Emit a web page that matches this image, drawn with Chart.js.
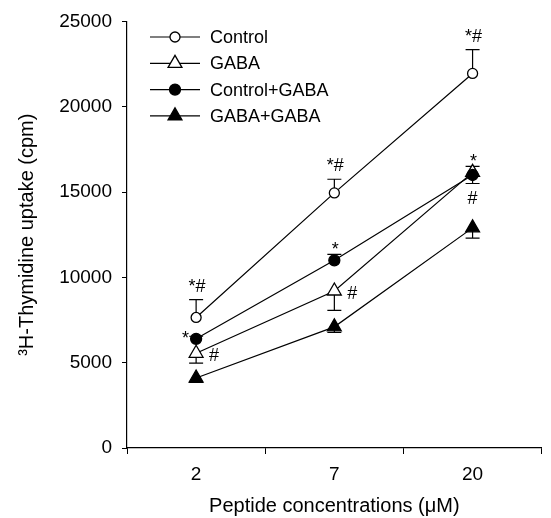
<!DOCTYPE html>
<html>
<head>
<meta charset="utf-8">
<script src="https://cdn.jsdelivr.net/npm/chart.js@4/dist/chart.umd.min.js"></script>
<style>
html,body{margin:0;padding:0;background:#fff;}
#wrap{width:551px;height:518px;position:relative;}
</style>
</head>
<body>
<div id="wrap"><canvas id="c" width="551" height="518"></canvas></div>
<script>
// ---- data ----
const concentrations = ['2', '7', '20'];
const seriesNames = ['Control', 'GABA', 'Control+GABA', 'GABA+GABA'];
const controlMean = [7650, 14950, 21950];
const controlErr = [1050, 800, 1400];
const gabaMean = [5550, 9200, 16150];
const gabaErr = [580, 1140, 650];
const ctrlGabaMean = [6400, 11000, 16000];
const ctrlGabaErr = [150, 350, 500];
const gabaGabaMean = [4100, 7100, 12900];
const gabaGabaErr = [250, 330, 600];
const controlSig = ['*#', '*#', '*#'];
const gabaSig = ['#', '#', '#'];
const ctrlGabaSig = ['*', '*', '*'];
const gabaGabaSig = ['', '', ''];
const yTicks = [0, 5000, 10000, 15000, 20000, 25000];

// ---- styling / helpers ----
const FONT = '"Liberation Sans", Arial, Helvetica, sans-serif';
Chart.defaults.font.family = FONT;
Chart.defaults.color = '#000';

const seriesInfo = [
  {mean: controlMean, err: controlErr, dir: 1, sig: controlSig, place: ['above','above','above'], style: 'circle', fill: '#fff', r: 5, order: 0},
  {mean: gabaMean, err: gabaErr, dir: -1, sig: gabaSig, place: ['right','right','below'], style: 'triangle', fill: '#fff', r: 8, order: 2},
  {mean: ctrlGabaMean, err: ctrlGabaErr, dir: 1, sig: ctrlGabaSig, place: ['left','above','above'], style: 'circle', fill: '#000', r: 5.5, order: 1},
  {mean: gabaGabaMean, err: gabaGabaErr, dir: -1, sig: gabaGabaSig, place: ['below','below','below'], style: 'triangle', fill: '#000', r: 8, order: 3}
];

const datasets = seriesInfo.map((s, k) => ({
  label: seriesNames[k],
  data: s.mean,
  order: s.order,
  borderColor: '#000',
  borderWidth: 1.2,
  backgroundColor: s.fill,
  pointStyle: s.style,
  pointRadius: s.r,
  pointHoverRadius: s.r,
  pointBackgroundColor: s.fill,
  pointBorderColor: '#000',
  pointBorderWidth: 1.3,
  tension: 0,
  clip: false,
  fill: false
}));

const extras = {
  id: 'extras',
  beforeDatasetsDraw(chart) {
    const ctx = chart.ctx, xs = chart.scales.x, ys = chart.scales.y;
    ctx.save();
    ctx.strokeStyle = '#000';
    ctx.lineWidth = 1.2;
    seriesInfo.forEach(s => {
      s.mean.forEach((m, i) => {
        const px = xs.getPixelForValue(i);
        const py = ys.getPixelForValue(m);
        const pe = ys.getPixelForValue(m + s.dir * s.err[i]);
        ctx.beginPath();
        ctx.moveTo(px, py); ctx.lineTo(px, pe);
        ctx.moveTo(px - 7, pe); ctx.lineTo(px + 7, pe);
        ctx.stroke();
      });
    });
    ctx.restore();
  },
  afterDatasetsDraw(chart) {
    const ctx = chart.ctx, xs = chart.scales.x, ys = chart.scales.y;
    ctx.save();
    ctx.fillStyle = '#000';
    ctx.font = '18px ' + FONT;
    ctx.textBaseline = 'alphabetic';
    seriesInfo.forEach(s => {
      s.mean.forEach((m, i) => {
        const t = s.sig[i];
        if (!t) return;
        const px = xs.getPixelForValue(i);
        const py = ys.getPixelForValue(m);
        const pe = ys.getPixelForValue(m + s.dir * s.err[i]);
        const pl = s.place[i];
        if (pl === 'above') {
          ctx.textAlign = 'center';
          ctx.fillText(t, px + 1, t === '*' ? pe + 1 : pe - 8);
        } else if (pl === 'left') {
          ctx.textAlign = 'right';
          ctx.fillText(t, px - 7, py + 5);
        } else if (pl === 'right') {
          ctx.textAlign = 'left';
          ctx.fillText(t, px + 13, py + 8);
        } else if (pl === 'below') {
          ctx.textAlign = 'center';
          ctx.fillText(t, px, pe + 20);
        }
      });
    });
    ctx.restore();
  },
  afterDraw(chart) {
    const ctx = chart.ctx;
    ctx.save();
    ctx.font = '18px ' + FONT;
    ctx.textAlign = 'left';
    ctx.textBaseline = 'middle';
    seriesInfo.forEach((s, k) => {
      const y = 37 + k * 26.3;
      ctx.strokeStyle = '#000';
      ctx.lineWidth = 1.2;
      ctx.beginPath(); ctx.moveTo(150, y); ctx.lineTo(200, y); ctx.stroke();
      ctx.fillStyle = s.fill; ctx.strokeStyle = '#000'; ctx.lineWidth = 1.3;
      Chart.helpers.drawPoint(ctx, {pointStyle: s.style, radius: s.r, borderWidth: 1.3}, 175, y);
      ctx.fillStyle = '#000';
      ctx.fillText(seriesNames[k], 210, y + 1);
    });
    ctx.restore();
  }
};

new Chart(document.getElementById('c'), {
  type: 'line',
  data: {labels: concentrations, datasets: datasets},
  plugins: [extras],
  options: {
    responsive: false,
    animation: false,
    devicePixelRatio: 1,
    layout: {padding: {left: 0, top: 20, right: 1, bottom: 0}},
    plugins: {legend: {display: false}, tooltip: {enabled: false}},
    scales: {
      x: {
        type: 'category',
        offset: true,
        grid: {display: true, offset: true, drawOnChartArea: false, drawTicks: true, tickLength: 6, color: '#000', lineWidth: 1},
        border: {display: true, color: '#000', width: 1.2},
        ticks: {color: '#000', font: {size: 19, family: FONT}, padding: 9, maxRotation: 0},
        title: {display: true, text: 'Peptide concentrations (\u03bcM)', color: '#000', font: {size: 20, family: FONT}, padding: {top: 0, bottom: 0}},
        afterFit(scale) { scale.height = 70; }
      },
      y: {
        type: 'linear',
        min: 0, max: 25000,
        afterBuildTicks(scale) { scale.ticks = yTicks.map(v => ({value: v})); },
        grid: {display: true, drawOnChartArea: false, drawTicks: true, tickLength: 5, color: '#000', lineWidth: 1},
        border: {display: true, color: '#000', width: 1.2},
        ticks: {color: '#000', font: {size: 19, family: FONT}, padding: 10, callback: (v) => String(v)},
        title: {display: true, text: '\u00b3H-Thymidine uptake (cpm)', color: '#000', font: {size: 20, family: FONT}, padding: {top: 15, bottom: 0}},
        afterFit(scale) { scale.width = 127; }
      }
    }
  }
});
</script>
</body>
</html>
